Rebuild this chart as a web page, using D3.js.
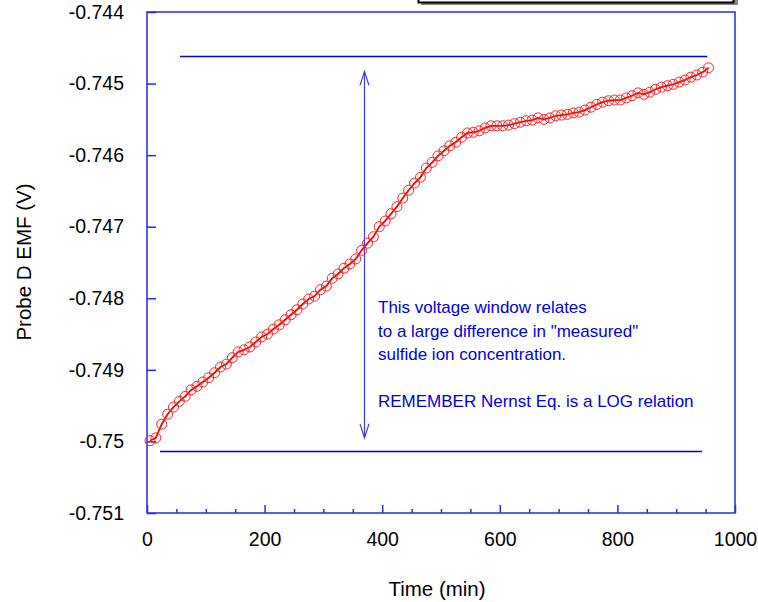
<!DOCTYPE html>
<html>
<head>
<meta charset="utf-8">
<script src="https://cdn.jsdelivr.net/npm/d3@7"></script>
<style>
  body { margin: 0; background: #fff; }
  svg text { font-family: Arial, "Liberation Sans", sans-serif; }
</style>
</head>
<body>
<div id="mainDiv"></div>
<script>
'use strict';

// time (min) of each reading
var times = [5, 15, 25, 35, 45, 55, 65, 75, 85, 95, 105, 115, 125, 135, 145, 155, 165, 175, 185, 195,
  205, 215, 225, 235, 245, 255, 265, 275, 285, 295, 305, 315, 325, 335, 345, 355, 365, 375, 385, 395,
  405, 415, 425, 435, 445, 455, 465, 475, 485, 495, 505, 515, 525, 535, 545, 555, 565, 575, 585, 595,
  605, 615, 625, 635, 645, 655, 665, 675, 685, 695, 705, 715, 725, 735, 745, 755, 765, 775, 785, 795,
  805, 815, 825, 835, 845, 855, 865, 875, 885, 895, 905, 915, 925, 935, 945, 955];

// probe D EMF (V)
var emf = [-0.74999, -0.74995, -0.74976, -0.74962, -0.74952, -0.74944, -0.74937, -0.74928, -0.74923, -0.74917,
  -0.74911, -0.74904, -0.74896, -0.74892, -0.74883, -0.74875, -0.74872, -0.74868, -0.74861, -0.74854,
  -0.74850, -0.74843, -0.74837, -0.74830, -0.74823, -0.74816, -0.74808, -0.74801, -0.74797, -0.74788,
  -0.74783, -0.74772, -0.74766, -0.74758, -0.74752, -0.74745, -0.74733, -0.74723, -0.74714, -0.74700,
  -0.74692, -0.74682, -0.74672, -0.74660, -0.74649, -0.74639, -0.74631, -0.74618, -0.74610, -0.74601,
  -0.74594, -0.74587, -0.74582, -0.74575, -0.74569, -0.74568, -0.74566, -0.74562, -0.74559, -0.74559,
  -0.74559, -0.74558, -0.74556, -0.74554, -0.74552, -0.74551, -0.74548, -0.74550, -0.74548, -0.74545,
  -0.74544, -0.74543, -0.74541, -0.74540, -0.74537, -0.74533, -0.74529, -0.74526, -0.74524, -0.74523,
  -0.74523, -0.74520, -0.74517, -0.74513, -0.74515, -0.74512, -0.74508, -0.74505, -0.74503, -0.74501,
  -0.74498, -0.74495, -0.74491, -0.74488, -0.74484, -0.74478];

var xTicks = [0, 200, 400, 600, 800, 1000];
var xMinorTicks = [50, 100, 150, 250, 300, 350, 450, 500, 550, 650, 700, 750, 850, 900, 950];
var yTicks = [-0.751, -0.75, -0.749, -0.748, -0.747, -0.746, -0.745, -0.744];

// voltage window lines: [t start, t end, emf]
var windowTop = [56, 953, -0.74461];
var windowBottom = [22, 944, -0.75013];
var arrowT = 369;
var arrowEnds = [-0.74483, -0.74995];

var noteLines = ['This voltage window relates', 'to a large difference in "measured"',
  'sulfide ion concentration.', '', 'REMEMBER Nernst Eq. is a LOG relation'];

var W = 758, H = 602;
var blue = '#0000dd';

var svg = d3.select('#mainDiv').append('svg')
  .attr('width', W).attr('height', H);

var x = d3.scaleLinear().domain([0, 1000]).range([147, 735]);
var y = d3.scaleLinear().domain([-0.751, -0.744]).range([513, 12]);

// cut-off legend box at the top
svg.append('rect').attr('x', 421).attr('y', -20).attr('width', 317).attr('height', 25).attr('fill', '#888');
svg.append('rect').attr('x', 418.5).attr('y', -20).attr('width', 315).attr('height', 22.5)
  .attr('fill', '#fff').attr('stroke', '#000').attr('stroke-width', 2);

// axes
var xAxis = svg.append('g').attr('transform', 'translate(0,513)')
  .call(d3.axisBottom(x).tickValues(xTicks).tickSize(-8).tickPadding(19).tickFormat(function (d) { return String(d); }));
var xMinor = svg.append('g').attr('transform', 'translate(0,513)')
  .call(d3.axisBottom(x).tickValues(xMinorTicks).tickSize(-4).tickFormat(''));
var yAxis = svg.append('g').attr('transform', 'translate(147,0)')
  .call(d3.axisLeft(y).tickValues(yTicks).tickSize(-9).tickPadding(23)
    .tickFormat(function (d) { return String(d); }));

[xAxis, xMinor, yAxis].forEach(function (g) {
  g.select('.domain').remove();
  g.selectAll('line').attr('stroke', '#2a2ae8').attr('stroke-width', 1.5);
  g.selectAll('text').attr('fill', '#000').style('font-size', '19.5px');
});

// plot frame
svg.append('rect').attr('x', 147).attr('y', 12).attr('width', 588).attr('height', 501)
  .attr('fill', 'none').attr('stroke', '#2a2ae8').attr('stroke-width', 1.5);

// voltage window
[windowTop, windowBottom].forEach(function (w) {
  svg.append('line')
    .attr('x1', x(w[0])).attr('x2', x(w[1]))
    .attr('y1', Math.round(y(w[2])) + 0.5).attr('y2', Math.round(y(w[2])) + 0.5)
    .attr('stroke', blue).attr('stroke-width', 1.3);
});

var ax = Math.round(x(arrowT)) + 0.5;
var aTop = y(arrowEnds[0]), aBot = y(arrowEnds[1]);
var arrow = svg.append('g').attr('stroke', '#3a3aee').attr('stroke-width', 1.2).attr('fill', 'none');
arrow.append('line').attr('x1', ax).attr('x2', ax).attr('y1', aTop).attr('y2', aBot);
arrow.append('path').attr('d', 'M' + (ax - 4.5) + ',' + (aTop + 14) + 'L' + ax + ',' + aTop + 'L' + (ax + 4.5) + ',' + (aTop + 14));
arrow.append('path').attr('d', 'M' + (ax - 4.5) + ',' + (aBot - 14) + 'L' + ax + ',' + aBot + 'L' + (ax + 4.5) + ',' + (aBot - 14));

// data
var pts = times.map(function (t, i) { return [t, emf[i]]; });
var line = d3.line().x(function (d) { return x(d[0]); }).y(function (d) { return y(d[1]); });

svg.append('path').datum(pts)
  .attr('d', line).attr('fill', 'none').attr('stroke', '#ff0000').attr('stroke-width', 1.8);

svg.append('g').selectAll('circle').data(pts).enter().append('circle')
  .attr('cx', function (d) { return x(d[0]); })
  .attr('cy', function (d) { return y(d[1]); })
  .attr('r', 5)
  .attr('fill', 'none').attr('stroke', '#ff2020').attr('stroke-width', 1);

// note
svg.append('g').selectAll('text').data(noteLines).enter().append('text')
  .attr('x', 378)
  .attr('y', function (d, i) { return 313 + i * 23.5; })
  .attr('fill', blue)
  .style('font-size', '17px')
  .text(function (d) { return d; });

// axis titles
svg.append('text').attr('x', 437).attr('y', 596).attr('text-anchor', 'middle')
  .style('font-size', '20.5px').text('Time (min)');
svg.append('text').attr('transform', 'translate(31,262) rotate(-90)').attr('text-anchor', 'middle')
  .style('font-size', '20.5px').text('Probe D EMF (V)');
</script>
</body>
</html>
